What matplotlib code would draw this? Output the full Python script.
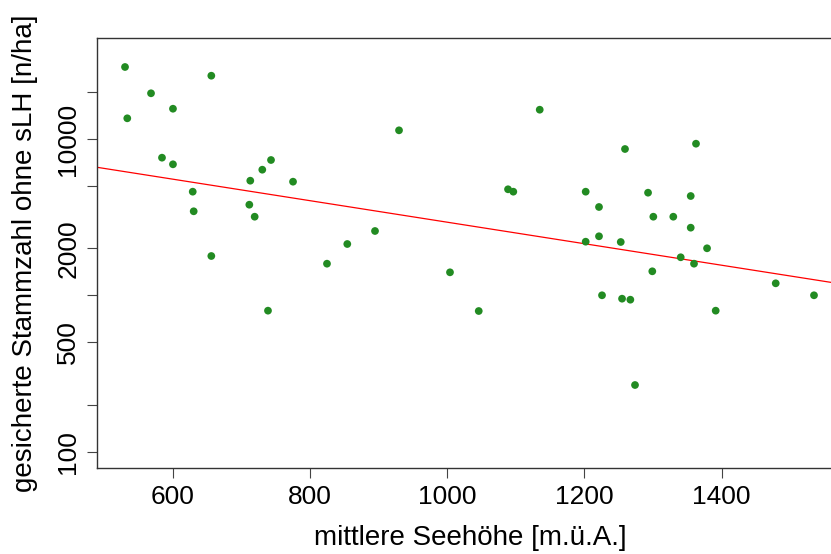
"""Stammzahl vs. Seehoehe, log y axis, with regression line."""

import numpy as np
import matplotlib
matplotlib.use("Agg")
import matplotlib.pyplot as plt
from matplotlib.ticker import FixedLocator, FixedFormatter, NullLocator

plt.rcParams["font.family"] = ["Liberation Sans", "DejaVu Sans"]

# mean elevation [m a.s.l.]
seehoehe = [530.5, 656.3, 568.4, 600.4, 533.8, 929.9, 584.4, 743.3, 600.4, 730.6,
            713.1, 775.4, 629.2, 711.7, 630.6, 719.5, 894.9, 854.5, 656.3, 824.9,
            1004.2, 738.9, 1135.0, 1362.8, 1259.3, 1088.8, 1096.5, 1202.0, 1292.9, 1355.1,
            1221.4, 1300.6, 1329.7, 1355.1, 1221.4, 1202.0, 1253.1, 1378.9, 1340.5, 1359.9,
            1299.1, 1479.0, 1225.8, 1534.8, 1255.0, 1267.1, 1046.1, 1391.5, 1273.9]
# stem count without sLH [n/ha]
stammzahl = [28880, 25400, 19610, 15620, 13565, 11365, 7595, 7340, 6890, 6363,
             5412, 5333, 4603, 3800, 3449, 3184, 2580, 2130, 1785, 1594,
             1404, 798, 15395, 9332, 8630, 4769, 4603, 4603, 4535, 4319,
             3674, 3184, 3184, 2709, 2387, 2204, 2194, 2000, 1752, 1594,
             1425, 1194, 1001, 1001, 952, 938, 794, 798, 267]

# regression line log10(n) = a + b * h
reg_a = 4.156
reg_b = -0.000688

x_ticks = [600, 800, 1000, 1200, 1400]
y_ticks = [100, 200, 500, 1000, 2000, 5000, 10000, 20000]
y_tick_labels = ["100", "", "500", "", "2000", "", "10000", ""]

W, H = 831, 554
fig = plt.figure(figsize=(W / 100, H / 100), dpi=100)
ax = fig.add_axes([97.3 / W, (H - 468.3) / H, (840 - 97.3) / W, (468.3 - 37.7) / H])

ax.set_yscale("log")
ax.set_xlim(490.1, 1572.7)
ax.set_ylim(78.3, 44460)

ax.scatter(seehoehe, stammzahl, s=31, color="#228B22", edgecolors="none", zorder=3)

xs = np.array(ax.get_xlim())
ax.plot(xs, 10 ** (reg_a + reg_b * xs), color="red", lw=0.9, zorder=2)

ax.xaxis.set_major_locator(FixedLocator(x_ticks))
ax.yaxis.set_major_locator(FixedLocator(y_ticks))
ax.yaxis.set_major_formatter(FixedFormatter(y_tick_labels))
ax.yaxis.set_minor_locator(NullLocator())
for lbl in ax.get_yticklabels():
    lbl.set_rotation(90)
    lbl.set_va("center")

ax.tick_params(axis="both", length=7.2, width=0.8, color="#444444", labelsize=19, pad=5)
for sp in ax.spines.values():
    sp.set_color("#333333")
    sp.set_linewidth(1.0)

ax.set_xlabel("mittlere Seehöhe [m.ü.A.]", fontsize=20)
ax.xaxis.set_label_coords(0.502, -0.162)
ax.xaxis.label.set_va("center")
ax.set_ylabel("gesicherte Stammzahl ohne sLH [n/ha]", fontsize=20)
ax.yaxis.set_label_coords(-0.097, 0.5)
ax.yaxis.label.set_va("center")

fig.savefig("out.png", dpi=100)
